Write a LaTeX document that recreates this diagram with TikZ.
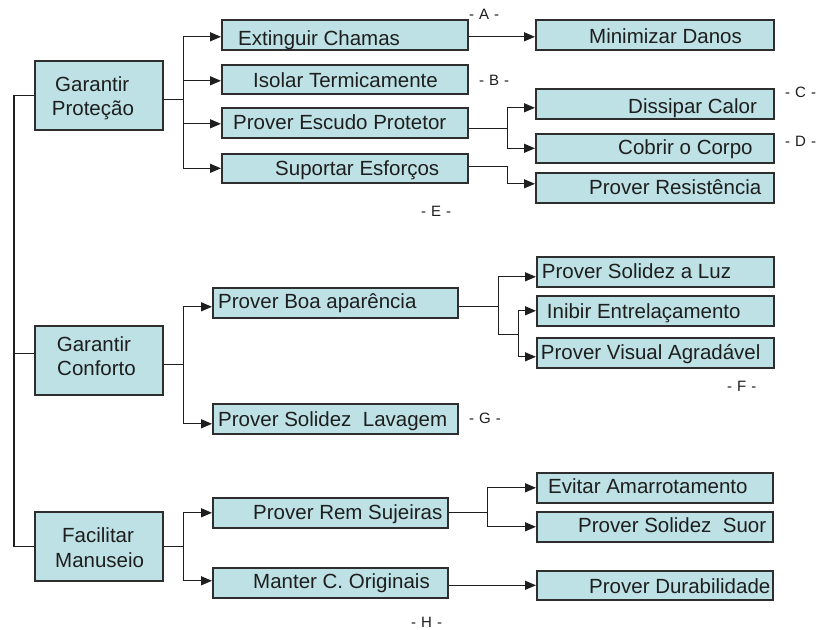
\documentclass[tikz,border=0pt]{standalone}
\usepackage{fontspec}
\setmainfont{Liberation Sans}
\usetikzlibrary{arrows.meta}
\definecolor{boxfill}{HTML}{BDE1E4}
\definecolor{boxline}{HTML}{2E2E2E}
\definecolor{ink}{HTML}{1E1E1E}
\newcommand\mybox[5]{\node[box, minimum width=#4pt, minimum height=#5pt] (#1) at (#2,#3) {};}
\newcommand\mytag[1]{-\hspace{5pt}#1\hspace{5pt}-}
\begin{document}
\begin{tikzpicture}[x=1pt,y=-1pt,
  box/.style={draw=boxline, fill=boxfill, line width=1.6pt, rectangle, inner sep=0pt, anchor=north west},
  lbl/.style={inner sep=0pt, anchor=base west, text=ink, font=\fontsize{20.5}{24}\selectfont},
  tag/.style={inner sep=0pt, anchor=base west, text=ink, font=\fontsize{15}{17}\selectfont},
  conn/.style={draw=ink, line width=1.3pt},
  arr/.style={conn, -{Triangle[length=11pt,width=9pt]}}]
\fill[white] (0,0) rectangle (818,629);
\useasboundingbox (0,0) rectangle (818,629);
% boxes
\mybox{gp}{34}{60}{128}{69}
\mybox{gc}{34}{325}{128}{69}
\mybox{fm}{34}{511}{128}{69}
\mybox{ext}{221}{19}{246}{30}
\mybox{iso}{221}{64}{246}{29}
\mybox{esc}{221}{107}{246}{30}
\mybox{sup}{221}{153}{246}{29}
\mybox{min}{535}{19}{238}{30}
\mybox{dis}{535}{88}{238}{30}
\mybox{cob}{535}{133}{238}{29}
\mybox{res}{535}{172}{238}{30}
\mybox{boa}{212}{287}{245}{30}
\mybox{lav}{212}{403}{245}{30}
\mybox{luz}{536}{256}{237}{30}
\mybox{ini}{536}{295}{237}{30}
\mybox{vis}{536}{337}{237}{30}
\mybox{rem}{212}{497}{235}{30}
\mybox{man}{212}{567}{235}{30}
\mybox{evi}{536}{472}{236}{30}
\mybox{suor}{536}{511}{236}{30}
\mybox{dur}{536}{570}{236}{29}
% texts
\node[lbl] (gp1) at (55,91.7) {Garantir};
\node[lbl] (gp2) at (51.7,115) {Proteção};
\node[lbl] (gc1) at (56.7,351.7) {Garantir};
\node[lbl] (gc2) at (57,375) {Conforto};
\node[lbl] (fm1) at (62,542.7) {Facilitar};
\node[lbl] (fm2) at (55,567.3) {Manuseio};
\node[lbl] (text) at (238,45) {Extinguir Chamas};
\node[lbl] (tiso) at (253,87.3) {Isolar Termicamente};
\node[lbl] (tesc) at (233,129.3) {Prover Escudo Protetor};
\node[lbl] (tsup) at (275,175) {Suportar Esforços};
\node[lbl] (tmin) at (589,43.3) {Minimizar Danos};
\node[lbl] (tdis) at (628,113.3) {Dissipar Calor};
\node[lbl] (tcob) at (618,154) {Cobrir o Corpo};
\node[lbl] (tres) at (589,194) {Prover Resistência};
\node[lbl] (tboa) at (218,308.3) {Prover Boa aparência};
\node[lbl] (tlav) at (218,426) {Prover Solidez\ \ Lavagem};
\node[lbl] (tluz) at (541.7,278.3) {Prover Solidez a Luz};
\node[lbl] (tini) at (546.7,318.3) {Inibir Entrelaçamento};
\node[lbl] (tvis) at (540.7,359.3) {Prover Visual Agradável};
\node[lbl] (trem) at (253,519.3) {Prover Rem Sujeiras};
\node[lbl] (tman) at (253,588.3) {Manter C. Originais};
\node[lbl] (tevi) at (548,493.3) {Evitar Amarrotamento};
\node[lbl] (tsuor) at (578,532.7) {Prover Solidez\ \ Suor};
\node[lbl] (tdur) at (589,593.3) {Prover Durabilidade};
% tags
\node[tag] (tagA) at (469,19) {\mytag{A}};
\node[tag] (tagB) at (479,85) {\mytag{B}};
\node[tag] (tagC) at (785,97) {\mytag{C}};
\node[tag] (tagD) at (785,146) {\mytag{D}};
\node[tag] (tagE) at (421,216) {\mytag{E}};
\node[tag] (tagF) at (727,391) {\mytag{F}};
\node[tag] (tagG) at (469,423) {\mytag{G}};
\node[tag] (tagH) at (411,627) {\mytag{H}};
% connectors
\draw[conn] (gp.west) -- ++(-20,0) |- (fm.west);
\draw[conn] ([yshift=6.5pt]gc.west) -- ++(-20,0);
\foreach \t/\s in {ext/-2pt, iso/-1.5pt, esc/-1pt, sup/0pt}
  \draw[arr] ([yshift=-4.5pt]gp.east) -- ++(20,0) |- ([yshift=\s]\t.west);
\draw[arr] ([yshift=-2pt]ext.east) -- ([yshift=-2pt]min.west);
\draw[arr] ([yshift=-6pt]esc.east) -- ++(39,0) |- ([yshift=-4pt]dis.west);
\draw[arr] ([yshift=-6pt]esc.east) -- ++(39,0) |- (cob.west);
\draw[arr] ([yshift=1.5pt]sup.east) -- ++(39,0) |- ([yshift=4pt]res.west);
\draw[arr] ([yshift=-4.5pt]gc.east) -- ++(20,0) |- ([yshift=-4pt]boa.west);
\draw[arr] ([yshift=-4.5pt]gc.east) -- ++(20,0) |- ([yshift=-5pt]lav.west);
\draw[arr] ([yshift=-4pt]boa.east) -- ++(40,0) |- ([yshift=-5pt]luz.west);
\draw[arr] ([yshift=-4pt]boa.east) -- ++(40,0) -- ++(0,28) -- ++(20,0) |- (ini.west);
\draw[arr] ([yshift=-4pt]boa.east) -- ++(40,0) -- ++(0,28) -- ++(20,0) |- ([yshift=-4pt]vis.west);
\draw[arr] (fm.east) -- ++(20,0) |- (rem.west);
\draw[arr] (fm.east) -- ++(20,0) |- ([yshift=2pt]man.west);
\draw[arr] (rem.east) -- ++(39,0) |- (evi.west);
\draw[arr] (rem.east) -- ++(39,0) |- (suor.west);
\draw[arr] (man.east |- dur.west) -- (dur.west);
\end{tikzpicture}
\end{document}
